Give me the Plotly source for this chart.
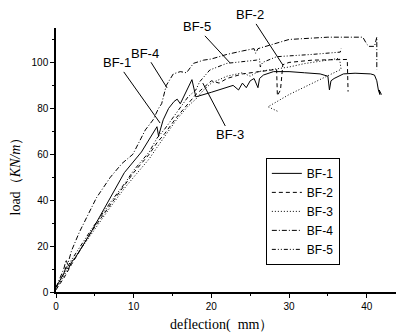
import plotly.graph_objects as go

# ---------------- data ----------------
bf1_x = [0, 0.5, 1, 1.3, 1.6, 2, 2.5, 4.5, 8.8, 11, 13, 13.2, 13.8, 14.5, 15.2, 15.6, 16, 17.5,
         18, 20, 22, 22.8, 23.5, 24, 24.5, 25, 25.5, 26, 26.2, 26.7, 28, 30, 32, 34, 35, 35.2,
         35.4, 35.8, 37, 38.5, 40.5, 41, 41.3, 41.5, 41.7, 41.6, 41.9]
bf1_y = [2, 5, 8, 11, 10, 13, 15, 26, 52, 61, 72, 68, 75, 80, 83, 84, 82, 92.5,
         85, 87, 89, 90, 88, 91, 89, 92, 93, 89, 93, 94.5, 96, 96, 95.5, 95, 94, 88,
         92, 93, 95, 95.3, 95, 94.5, 92, 88, 86, 88, 86]

bf2_x = [0, 1, 2, 4.5, 7, 9, 10, 12, 13, 14, 15.5, 17, 18, 19, 20, 21, 22, 24, 26, 28.4,
         28.5, 28.9, 29.2, 30, 33, 37.5, 37.6]
bf2_y = [1, 6, 12, 26, 38, 47, 52, 60, 65, 69, 76, 82, 86, 89, 92, 91, 93, 95, 96, 97,
         85.5, 88, 99, 100, 101, 101.3, 87.3]

bf3_x = [0, 1, 2, 4.5, 7, 9, 10, 12, 13, 14, 15.5, 17, 18, 19, 20, 22, 24, 25, 26, 28, 30,
         32, 34, 36.5, 36.7, 33, 30, 27.3, 28.6]
bf3_y = [1, 7, 13, 25, 37, 46, 50, 58, 63, 68, 75, 81, 84, 88, 91, 94, 95.5, 94, 96, 97, 98,
         99.5, 100.5, 101.8, 97, 91, 86, 80.7, 78.6]

bf4_x = [0, 0.5, 1, 1.3, 1.5, 2, 3, 5.2, 7, 8.5, 9.9, 11.5, 12.5, 13.2, 13.6, 14.2, 15.1, 16,
         16.8, 17.7, 19, 20, 22, 24, 25.5, 25.7, 26, 28, 30, 35, 39.5, 40, 40.3, 41, 41.3, 41.3]
bf4_y = [2, 6, 10, 14, 12, 18, 26, 41, 50, 56, 60, 70.6, 75, 80, 82, 90, 95, 96,
         95.5, 99.6, 101, 101.5, 103.5, 105, 106, 104, 106, 108, 110, 111, 111, 108, 107, 107, 111, 97]

bf5_x = [0, 1, 2, 4.5, 7, 9, 10, 12, 13, 14, 15.5, 17, 18, 18.5, 19.8, 22, 25.8, 26.2, 26.3,
         26.6, 28.4, 31, 33, 36.6, 36.7]
bf5_y = [2, 8, 14, 27, 39, 48, 53, 61, 67, 71, 78, 85, 88, 91.6, 96.7, 99.6, 101, 101.5, 98,
         100, 102.5, 103, 103.5, 104.5, 106]

names = ["BF-1", "BF-2", "BF-3", "BF-4", "BF-5"]
xs = [bf1_x, bf2_x, bf3_x, bf4_x, bf5_x]
ys = [bf1_y, bf2_y, bf3_y, bf4_y, bf5_y]
dashes = ["solid", "4px,3px", "1px,2px", "5px,2px,1px,2px", "4px,2px,1px,2px,1px,2px"]

# label annotations: (name, tip_x, tip_y, text_x, text_y)
label_names = ["BF-1", "BF-4", "BF-5", "BF-2", "BF-3"]
label_tip_x = [13.4, 14.3, 22.4, 29.2, 18.9]
label_tip_y = [73.6, 88.9, 99.8, 98.9, 91.0]
label_txt_x = [7.9, 11.5, 18.1, 25.0, 22.4]
label_txt_y = [99.8, 104.0, 115.5, 120.7, 68.4]

fig = go.Figure()
for n, x, y, d in zip(names, xs, ys, dashes):
    fig.add_trace(go.Scatter(x=x, y=y, mode="lines", name=n,
                             line=dict(color="black", width=1, dash=d)))

annos = []
for n, tx, ty, lx, ly in zip(label_names, label_tip_x, label_tip_y, label_txt_x, label_txt_y):
    annos.append(dict(x=tx, y=ty, xref="x", yref="y", ax=lx, ay=ly, axref="x", ayref="y",
                      text=n, showarrow=True, arrowhead=0, arrowwidth=1, arrowcolor="black",
                      font=dict(family="Liberation Sans, Arial", size=13, color="black")))

annos.append(dict(x=-0.117, y=0.45, xref="paper", yref="paper", showarrow=False,
                  xanchor="center", yanchor="middle",
                  text="load（<i>KN/m</i>）", textangle=-90,
                  font=dict(family="Liberation Serif, Times New Roman", size=14, color="black")))
annos.append(dict(x=0.477, y=-0.125, xref="paper", yref="paper", showarrow=False,
                  xanchor="center", yanchor="middle",
                  text="deflection(  mm）",
                  font=dict(family="Liberation Serif, Times New Roman", size=14, color="black")))

# page body has an 8px default margin, so the figure is drawn 8px smaller
fig.update_layout(
    width=396, height=326,
    margin=dict(l=48, r=0, t=20, b=42),
    plot_bgcolor="white", paper_bgcolor="white",
    showlegend=True,
    legend=dict(x=0.603, y=0.508, xanchor="left", yanchor="top",
                bordercolor="black", borderwidth=1, bgcolor="white",
                font=dict(family="Liberation Sans, Arial", size=12, color="black"),
                tracegroupgap=0, itemwidth=30),
    annotations=annos,
)
fig.update_xaxes(range=[0, 44.8], showline=True, linecolor="black", linewidth=1.5,
                 showgrid=False, zeroline=False, ticks="outside", ticklen=4, tickwidth=1,
                 tickcolor="black", dtick=10, tick0=0,
                 minor=dict(ticks="outside", ticklen=2, dtick=5, tickcolor="black"),
                 tickfont=dict(family="Liberation Sans, Arial", size=10, color="black"))
fig.update_yaxes(range=[0, 115], showline=True, linecolor="black", linewidth=1.5,
                 showgrid=False, zeroline=False, ticks="outside", ticklen=4, tickwidth=1,
                 tickcolor="black", dtick=20, tick0=0,
                 minor=dict(ticks="outside", ticklen=2, dtick=10, tickcolor="black"),
                 tickfont=dict(family="Liberation Sans, Arial", size=10, color="black"))

fig.write_html("out.html")
